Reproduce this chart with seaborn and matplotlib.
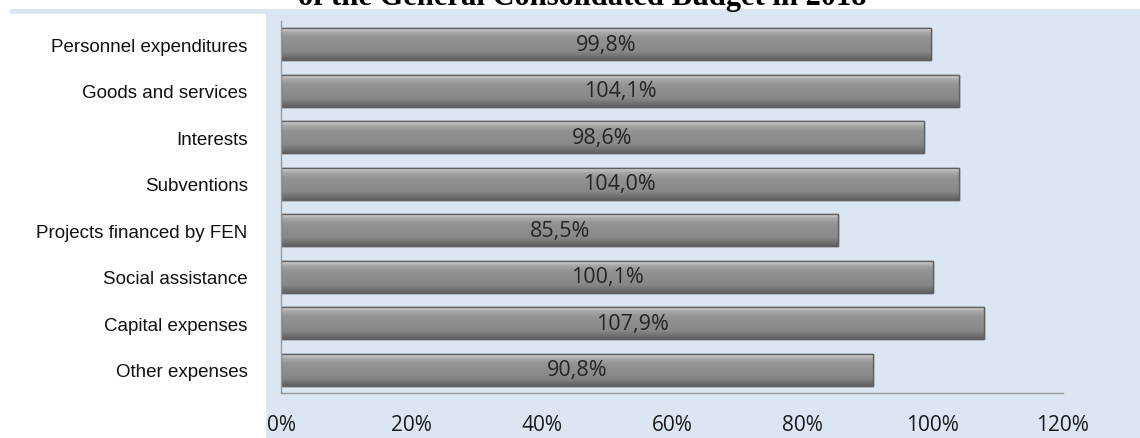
import matplotlib
matplotlib.use("Agg")
import matplotlib.pyplot as plt
import seaborn as sns
import numpy as np
import pandas as pd
from matplotlib.patches import Rectangle

categories = ["Personnel expenditures", "Goods and services", "Interests", "Subventions",
              "Projects financed by FEN", "Social assistance", "Capital expenses", "Other expenses"]
values = [99.8, 104.1, 98.6, 104.0, 85.5, 100.1, 107.9, 90.8]
value_labels = ["99,8%", "104,1%", "98,6%", "104,0%", "85,5%", "100,1%", "107,9%", "90,8%"]
xticks = [0, 20, 40, 60, 80, 100, 120]
xtick_labels = ["0%", "20%", "40%", "60%", "80%", "100%", "120%"]
title = "of the General Consolidated Budget in 2018"

df = pd.DataFrame({"category": categories, "value": values})

sns.set_style("white")
W, H = 1140, 439
fig = plt.figure(figsize=(W / 100, H / 100), dpi=100)
fig.patch.set_facecolor("white")

bg = "#dce6f2"
# blue chart area
fig.patches.append(Rectangle((10 / W, 0), 1 - 10 / W, 1 - 10 / H, transform=fig.transFigure,
                             facecolor=bg, edgecolor="none", zorder=-10))
# white label box
fig.patches.append(Rectangle((10 / W, 0), (266 - 10) / W, 1 - 15 / H, transform=fig.transFigure,
                             facecolor="white", edgecolor="none", zorder=-9))

ax = fig.add_axes([281 / W, 1 - 394 / H, (1063 - 281) / W, (394 - 22) / H])
ax.set_facecolor("none")

sns.barplot(data=df, y="category", x="value", orient="h", color="#8c8c8c",
            width=0.68, edgecolor="#5e5e5e", linewidth=1.0, ax=ax)

# gradient fill clipped to each bar
grad = np.linspace(0, 1, 64).reshape(-1, 1)
cmap = matplotlib.colors.LinearSegmentedColormap.from_list(
    "g", [(0.0, "#d8d8d8"), (0.12, "#a9a9a9"), (0.3, "#939393"), (0.75, "#878787"), (1.0, "#5f5f5f")])
for p in list(ax.patches):
    x0, y0 = p.get_x(), p.get_y()
    w, h = p.get_width(), p.get_height()
    im = ax.imshow(grad, cmap=cmap, aspect="auto", extent=(x0, x0 + w, y0 + h, y0),
                   origin="upper", zorder=p.get_zorder() + 0.1)
    im.set_clip_path(p)
    ax.add_patch(Rectangle((x0, y0), w, h, facecolor="none", edgecolor="#626262",
                           linewidth=1.0, zorder=p.get_zorder() + 0.2))

for i, (v, lab) in enumerate(zip(values, value_labels)):
    ax.text(v / 2, i, lab, ha="center", va="center", fontsize=15.5,
            family=["Open Sans", "DejaVu Sans"], color="#262626", zorder=10)

ax.set_xlim(0, 120)
ax.set_ylim(len(categories) - 0.5, -0.5)
ax.set_xticks(xticks)
ax.set_xticklabels(xtick_labels, fontsize=15, family=["Open Sans", "DejaVu Sans"], color="#1a1a1a")
ax.set_yticks(range(len(categories)))
ax.set_yticklabels(categories, fontsize=13.5, family=["Liberation Sans", "DejaVu Sans"],
                   color="#111111")
ax.set_yticks(np.arange(-0.5, len(categories), 1), minor=True)
ax.tick_params(axis="y", which="major", length=0, pad=24)
ax.tick_params(axis="y", which="minor", length=6, color="#9a9a9a", width=1, direction="out")
ax.tick_params(axis="x", which="major", length=6, color="#9a9a9a", width=1, direction="out", pad=9)
ax.set_xlabel("")
ax.set_ylabel("")
for s in ["top", "right"]:
    ax.spines[s].set_visible(False)
for s in ["left", "bottom"]:
    ax.spines[s].set_color("#9a9a9a")
    ax.spines[s].set_linewidth(1)

fig.text(582 / W, 1 - 5.5 / H, title, ha="center", va="baseline", fontsize=22, fontweight="bold",
         family=["Liberation Serif", "DejaVu Serif"], color="#000000")

fig.savefig("out.png", dpi=100)
